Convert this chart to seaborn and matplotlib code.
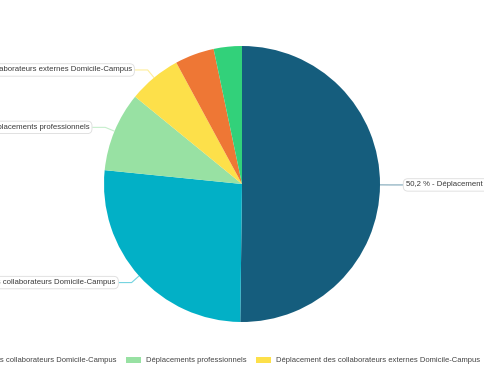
import numpy as np
import matplotlib
matplotlib.use("Agg")
import matplotlib.pyplot as plt
import seaborn as sns
from matplotlib.patches import Patch

sns.set_theme(style="white")
plt.rcParams['font.family'] = ['Liberation Sans', 'DejaVu Sans']

categories = [
    "Déplacement des étudiants Domicile-Campus",
    "Déplacement des collaborateurs Domicile-Campus",
    "Déplacements professionnels",
    "Déplacement des collaborateurs externes Domicile-Campus",
    "Fret",
    "Autres",
]
values = [50.2, 26.4, 9.3, 6.2, 4.6, 3.3]
value_labels = ["50,2 %", "26,4 %", "9,3 %", "6,2 %", "4,6 %", "3,3 %"]
show_label = [True, True, True, True, False, False]
colors = ["#155d7d", "#02b0c6", "#98e1a3", "#fde04a", "#ee7735", "#32d17a"]
legend_items = [1, 2, 3]

W, H = 485, 369
fig = plt.figure(figsize=(W / 100, H / 100), dpi=100)
ax = fig.add_axes([0, 0, 1, 1])

cx, cy, r = 242, H - 184, 138
wedges, _ = ax.pie(values, colors=colors, startangle=90, counterclock=False,
                   radius=r, center=(cx, cy), wedgeprops=dict(linewidth=0))
ax.set_xlim(0, W)
ax.set_ylim(0, H)
ax.set_aspect("equal")
ax.axis("off")

fs = 5.6
for w, lab, cat, show, col in zip(wedges, value_labels, categories, show_label, colors):
    if not show:
        continue
    mid = np.deg2rad((w.theta1 + w.theta2) / 2)
    ux, uy = np.cos(mid), np.sin(mid)
    ax_, ay_ = cx + r * ux, cy + r * uy
    ex, ey = ax_ + 10 * ux, ay_ + 10 * uy
    side = 1 if ux > 0 else -1
    tx = ex + side * 13
    ax.plot([ax_, ex, tx], [ay_, ey, ey], color=col, alpha=0.55, lw=0.8,
            solid_capstyle="butt")
    ax.text(tx + side * 3, ey, f"{lab} - {cat}", fontsize=fs, color="#3a3a3a",
            ha="left" if side > 0 else "right", va="center", clip_on=False,
            bbox=dict(boxstyle="round,pad=0.35,rounding_size=0.6", fc="white",
                      ec="#dcdcdc", lw=0.6))

lfs = 5.5
em = lfs * 100 / 72
handles = [Patch(facecolor=colors[i], edgecolor="none") for i in legend_items]
fig.legend(handles, [categories[i] for i in legend_items], ncol=len(legend_items),
           loc="center right", bbox_to_anchor=(480 / W, 1 - 360.5 / H),
           frameon=False, fontsize=lfs, labelcolor="#444444", borderpad=0,
           borderaxespad=0, handlelength=15 / em, handleheight=7 / em,
           handletextpad=5 / em, columnspacing=9.5 / em)

fig.savefig("out.png", dpi=100, facecolor="white")
